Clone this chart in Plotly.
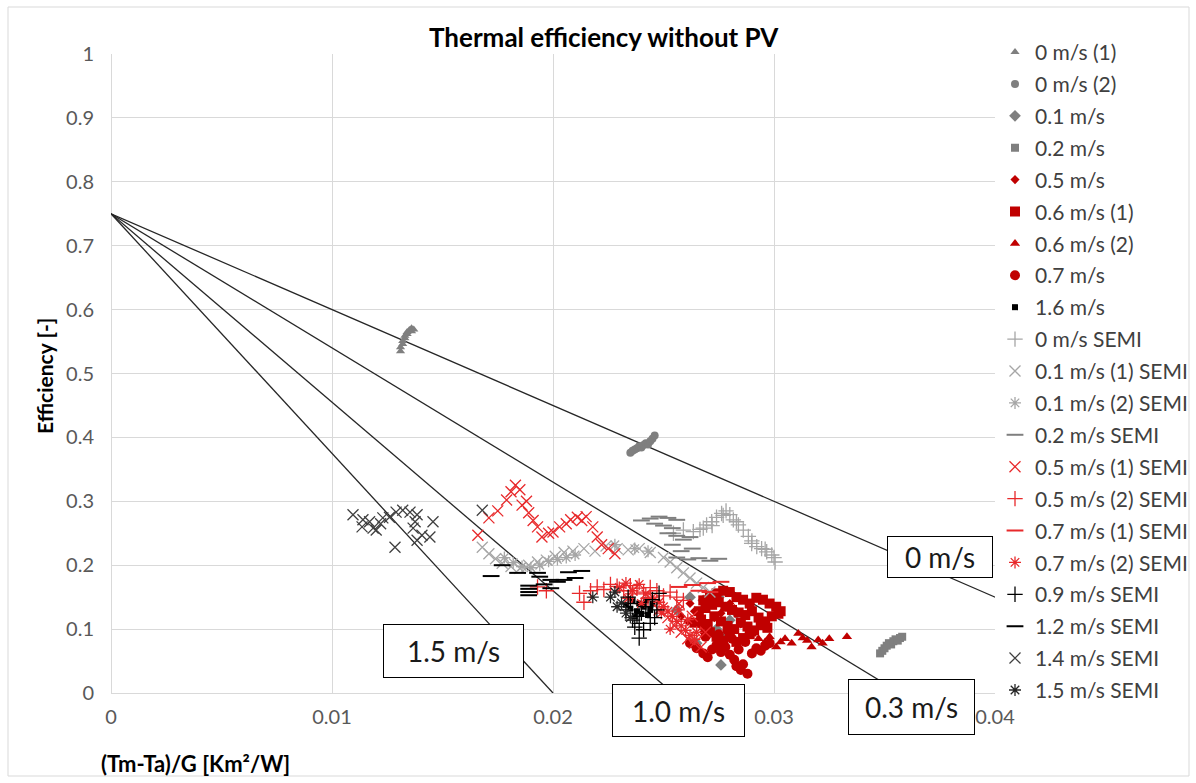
import plotly.graph_objects as go

# ---------------- data ----------------
x_0ms_1 = [0.0131, 0.0131, 0.0132, 0.0132, 0.0133, 0.0133, 0.0134, 0.0134, 0.0135, 0.0136, 0.0136, 0.0137]
y_0ms_1 = [0.535, 0.541, 0.546, 0.551, 0.555, 0.559, 0.562, 0.565, 0.568, 0.566, 0.571, 0.569]

x_0ms_2 = [0.0235, 0.0236, 0.0237, 0.0238, 0.0239, 0.0240, 0.0241, 0.0242, 0.0243, 0.0244, 0.0245, 0.0246]
y_0ms_2 = [0.376, 0.379, 0.381, 0.383, 0.386, 0.384, 0.388, 0.391, 0.389, 0.394, 0.398, 0.403]

x_01ms = [0.0256, 0.0262, 0.0265, 0.0268, 0.0271, 0.0274, 0.0276, 0.0280, 0.0283, 0.0267, 0.0275, 0.0278]
y_01ms = [0.130, 0.150, 0.078, 0.145, 0.141, 0.100, 0.044, 0.114, 0.125, 0.110, 0.150, 0.090]

x_02ms = [0.0348, 0.0349, 0.0350, 0.0351, 0.0352, 0.0353, 0.0354, 0.0355, 0.0356, 0.0357, 0.0358]
y_02ms = [0.062, 0.066, 0.070, 0.074, 0.078, 0.076, 0.081, 0.084, 0.082, 0.086, 0.088]

x_05ms = [0.0258, 0.0261, 0.0264, 0.0267, 0.0270, 0.0273, 0.0276, 0.0279, 0.0282, 0.0285, 0.0262, 0.0268, 0.0274, 0.0280]
y_05ms = [0.120, 0.112, 0.128, 0.105, 0.135, 0.118, 0.125, 0.098, 0.132, 0.108, 0.140, 0.095, 0.148, 0.140]

x_06ms_1 = [0.0268, 0.0271, 0.0274, 0.0277, 0.0280, 0.0283, 0.0286, 0.0289, 0.0292, 0.0295, 0.0298, 0.0301, 0.0303,
            0.0266, 0.0269, 0.0272, 0.0275, 0.0278, 0.0281, 0.0284, 0.0287, 0.0290, 0.0293, 0.0296, 0.0299, 0.0302,
            0.0264, 0.0267, 0.0270, 0.0273, 0.0276, 0.0279, 0.0282, 0.0285, 0.0288, 0.0291, 0.0294, 0.0297,
            0.0271, 0.0274, 0.0277, 0.0280, 0.0283, 0.0286, 0.0289]
y_06ms_1 = [0.145, 0.152, 0.156, 0.160, 0.158, 0.150, 0.146, 0.140, 0.149, 0.146, 0.140, 0.135, 0.128,
            0.128, 0.133, 0.138, 0.142, 0.135, 0.130, 0.126, 0.122, 0.128, 0.118, 0.112, 0.120, 0.124,
            0.110, 0.115, 0.108, 0.120, 0.112, 0.105, 0.100, 0.110, 0.104, 0.098, 0.106, 0.102,
            0.095, 0.088, 0.082, 0.090, 0.080, 0.086, 0.092]

x_06ms_2 = [0.0290, 0.0293, 0.0296, 0.0298, 0.0301, 0.0303, 0.0305, 0.0308, 0.0311, 0.0313, 0.0315, 0.0317, 0.0320, 0.0322, 0.0325, 0.0333]
y_06ms_2 = [0.092, 0.085, 0.080, 0.088, 0.072, 0.080, 0.085, 0.078, 0.093, 0.086, 0.082, 0.072, 0.083, 0.078, 0.085, 0.088]

x_07ms = [0.0262, 0.0265, 0.0268, 0.0270, 0.0272, 0.0274, 0.0276, 0.0278, 0.0280, 0.0282, 0.0284, 0.0285, 0.0286,
          0.0288, 0.0290, 0.0292, 0.0294, 0.0296, 0.0298, 0.0269, 0.0275, 0.0281, 0.0287, 0.0283, 0.0279]
y_07ms = [0.078, 0.070, 0.062, 0.056, 0.068, 0.075, 0.064, 0.072, 0.060, 0.052, 0.068, 0.036, 0.045,
          0.030, 0.062, 0.070, 0.066, 0.074, 0.078, 0.088, 0.092, 0.085, 0.080, 0.042, 0.098]

x_16ms = [0.0233, 0.0235, 0.0236, 0.0238, 0.0239, 0.0240, 0.0241, 0.0242, 0.0244, 0.0237, 0.0243, 0.0245]
y_16ms = [0.138, 0.132, 0.145, 0.128, 0.140, 0.124, 0.135, 0.145, 0.130, 0.120, 0.122, 0.140]

x_0ms_semi = [0.02545, 0.0259, 0.02635, 0.02665, 0.0268, 0.02695, 0.0272, 0.02718, 0.0274, 0.02763, 0.0277, 0.02783,
              0.0280, 0.02816, 0.0283, 0.02839, 0.02861, 0.02884, 0.0290, 0.02899, 0.02922, 0.02944, 0.0296,
              0.02967, 0.0299, 0.0300, 0.03005]
y_0ms_semi = [0.250, 0.255, 0.2525, 0.256, 0.258, 0.263, 0.262, 0.268, 0.275, 0.281, 0.278, 0.285,
              0.279, 0.271, 0.268, 0.263, 0.255, 0.245, 0.238, 0.234, 0.229, 0.226, 0.225,
              0.221, 0.216, 0.212, 0.205]

x_01ms_1_semi = [0.0168, 0.0171, 0.0174, 0.0177, 0.0181, 0.0185, 0.0189, 0.0193, 0.0197, 0.0201, 0.0205, 0.0209,
                 0.0214, 0.0219, 0.0224, 0.0229, 0.0234, 0.0239, 0.0244, 0.0250, 0.0253, 0.0256, 0.0259, 0.0262,
                 0.0265, 0.0268, 0.0271]
y_01ms_1_semi = [0.228, 0.218, 0.210, 0.203, 0.198, 0.195, 0.200, 0.205, 0.208, 0.214, 0.220, 0.222,
                 0.226, 0.222, 0.230, 0.226, 0.224, 0.226, 0.220, 0.212, 0.205, 0.196, 0.188, 0.180,
                 0.172, 0.165, 0.158]

x_01ms_2_semi = [0.0178, 0.0182, 0.0186, 0.0190, 0.0194, 0.0198, 0.0202, 0.0206, 0.0210, 0.0237, 0.0243, 0.0228]
y_01ms_2_semi = [0.212, 0.204, 0.198, 0.196, 0.200, 0.206, 0.209, 0.212, 0.216, 0.226, 0.222, 0.232]

x_02ms_semi = [0.0240, 0.0244, 0.0248, 0.0252, 0.0256, 0.0246, 0.0250, 0.0254, 0.0252, 0.0256, 0.0259, 0.0262,
               0.0256, 0.0261, 0.0266, 0.0271, 0.0275, 0.0254, 0.0258, 0.0263]
y_02ms_semi = [0.270, 0.273, 0.276, 0.274, 0.271, 0.265, 0.262, 0.258, 0.250, 0.246, 0.240, 0.244,
               0.212, 0.209, 0.211, 0.207, 0.210, 0.232, 0.222, 0.226]

x_05ms_1_semi = [0.0166, 0.0171, 0.0175, 0.0179, 0.0181, 0.0183, 0.0185, 0.0186, 0.0188, 0.0189, 0.0191, 0.0193,
                 0.0195, 0.0198, 0.0200, 0.0203, 0.0206, 0.0208, 0.0211, 0.0213, 0.0215, 0.0218, 0.0220, 0.0222,
                 0.0225, 0.0228,
                 0.0248, 0.0252, 0.0255, 0.0258, 0.0261, 0.0264, 0.0267, 0.0257, 0.0263, 0.0269]
y_05ms_1_semi = [0.247, 0.274, 0.285, 0.302, 0.315, 0.325, 0.318, 0.294, 0.300, 0.282, 0.270, 0.260,
                 0.244, 0.250, 0.252, 0.260, 0.265, 0.271, 0.275, 0.270, 0.276, 0.260, 0.244, 0.232,
                 0.226, 0.218,
                 0.130, 0.118, 0.105, 0.095, 0.085, 0.078, 0.072, 0.140, 0.120, 0.095]

x_05ms_2_semi = [0.0193, 0.0197, 0.0212, 0.0214, 0.0217, 0.0220, 0.0223, 0.0226, 0.0229, 0.0232, 0.0235, 0.0238,
                 0.0241, 0.0244, 0.0247, 0.0250, 0.0253, 0.0256, 0.0259, 0.0236, 0.0243]
y_05ms_2_semi = [0.166, 0.160, 0.156, 0.142, 0.160, 0.166, 0.162, 0.170, 0.167, 0.160, 0.168, 0.164,
                 0.158, 0.165, 0.160, 0.152, 0.158, 0.150, 0.145, 0.155, 0.148]

x_07ms_1_semi = [0.0257, 0.0263, 0.0270, 0.0276, 0.0271, 0.0266]
y_07ms_1_semi = [0.166, 0.169, 0.172, 0.174, 0.158, 0.160]

x_07ms_2_semi = [0.0230, 0.0233, 0.0236, 0.0239, 0.0242, 0.0245, 0.0248, 0.0250, 0.0252, 0.0254, 0.0256, 0.0258,
                 0.0260, 0.0262, 0.0264, 0.0249, 0.0253, 0.0257, 0.0261, 0.0265, 0.0234, 0.0240]
y_07ms_2_semi = [0.165, 0.172, 0.160, 0.170, 0.155, 0.150, 0.142, 0.135, 0.128, 0.120, 0.112, 0.105,
                 0.098, 0.090, 0.084, 0.125, 0.100, 0.130, 0.115, 0.095, 0.148, 0.140]

x_09ms_semi = [0.0233, 0.0235, 0.0236, 0.0238, 0.0239, 0.0240, 0.0241, 0.0239, 0.0242, 0.0244, 0.0245, 0.0247,
               0.0248, 0.0234, 0.0246, 0.0237]
y_09ms_semi = [0.130, 0.140, 0.114, 0.120, 0.109, 0.125, 0.099, 0.086, 0.135, 0.109, 0.146, 0.130,
               0.156, 0.150, 0.118, 0.103]

x_12ms_semi = [0.0172, 0.0177, 0.0184, 0.0189, 0.0189, 0.0189, 0.0189, 0.0193, 0.0194, 0.0199, 0.0202, 0.0205,
               0.0199, 0.0207, 0.0213, 0.0196, 0.0210]
y_12ms_semi = [0.183, 0.200, 0.188, 0.153, 0.158, 0.163, 0.168, 0.188, 0.182, 0.177, 0.174, 0.177,
               0.164, 0.189, 0.191, 0.170, 0.180]

x_14ms_semi = [0.01095, 0.0114, 0.01136, 0.0117, 0.01186, 0.0120, 0.0122, 0.0123, 0.0126, 0.0129, 0.0132,
               0.01353, 0.01376, 0.01385, 0.01367, 0.01385, 0.01407, 0.01443, 0.01457, 0.01285, 0.0168]
y_14ms_semi = [0.279, 0.271, 0.260, 0.268, 0.258, 0.255, 0.265, 0.274, 0.275, 0.283, 0.286,
               0.283, 0.268, 0.279, 0.258, 0.239, 0.247, 0.244, 0.268, 0.228, 0.286]

x_15ms_semi = [0.0218, 0.0226, 0.0229, 0.0231, 0.0233, 0.0235, 0.0228]
y_15ms_semi = [0.150, 0.150, 0.135, 0.141, 0.125, 0.118, 0.158]

# efficiency lines: eta = eta0 - a1 * x
line_labels = ["0 m/s", "0.3 m/s", "1.0 m/s", "1.5 m/s"]
line_eta0 = [0.75, 0.75, 0.75, 0.75]
line_a1 = [15.0, 21.0, 29.5, 37.5]

x_ticks = [0, 0.01, 0.02, 0.03, 0.04]
x_ticklabels = ["0", "0.01", "0.02", "0.03", "0.04"]
y_ticks = [0, 0.1, 0.2, 0.3, 0.4, 0.5, 0.6, 0.7, 0.8, 0.9, 1.0]
y_ticklabels = ["0", "0.1", "0.2", "0.3", "0.4", "0.5", "0.6", "0.7", "0.8", "0.9", "1"]

# ---------------- styles ----------------
GRAY = "#7f7f7f"
LGRAY = "#a6a6a6"
RED = "#c00000"
SRED = "#e8292b"
BLACK = "#000000"

series = [
    ("0 m/s (1)", x_0ms_1, y_0ms_1, "triangle-up", GRAY, 8, 0),
    ("0 m/s (2)", x_0ms_2, y_0ms_2, "circle", GRAY, 8, 0),
    ("0.1 m/s", x_01ms, y_01ms, "diamond", GRAY, 9, 0),
    ("0.2 m/s", x_02ms, y_02ms, "square", GRAY, 8, 0),
    ("0.5 m/s", x_05ms, y_05ms, "diamond", RED, 7, 0),
    ("0.6 m/s (1)", x_06ms_1, y_06ms_1, "square", RED, 10, 0),
    ("0.6 m/s (2)", x_06ms_2, y_06ms_2, "triangle-up", RED, 9, 0),
    ("0.7 m/s", x_07ms, y_07ms, "circle", RED, 10, 0),
    ("1.6 m/s", x_16ms, y_16ms, "square", BLACK, 6, 0),
    ("0 m/s SEMI", x_0ms_semi, y_0ms_semi, "cross-thin-open", LGRAY, 11, 1.3),
    ("0.1 m/s (1) SEMI", x_01ms_1_semi, y_01ms_1_semi, "x-thin-open", LGRAY, 11, 1.3),
    ("0.1 m/s (2) SEMI", x_01ms_2_semi, y_01ms_2_semi, "asterisk-open", LGRAY, 10, 1.3),
    ("0.2 m/s SEMI", x_02ms_semi, y_02ms_semi, "line-ew-open", GRAY, 12, 2),
    ("0.5 m/s (1) SEMI", x_05ms_1_semi, y_05ms_1_semi, "x-thin-open", SRED, 11, 1.3),
    ("0.5 m/s (2) SEMI", x_05ms_2_semi, y_05ms_2_semi, "cross-thin-open", SRED, 11, 1.3),
    ("0.7 m/s (1) SEMI", x_07ms_1_semi, y_07ms_1_semi, "line-ew-open", SRED, 12, 2),
    ("0.7 m/s (2) SEMI", x_07ms_2_semi, y_07ms_2_semi, "asterisk-open", SRED, 10, 1.3),
    ("0.9 m/s SEMI", x_09ms_semi, y_09ms_semi, "cross-thin-open", BLACK, 11, 1.3),
    ("1.2 m/s SEMI", x_12ms_semi, y_12ms_semi, "line-ew-open", BLACK, 12, 2),
    ("1.4 m/s SEMI", x_14ms_semi, y_14ms_semi, "x-thin-open", "#404040", 11, 1.3),
    ("1.5 m/s SEMI", x_15ms_semi, y_15ms_semi, "asterisk-open", "#262626", 10, 1.3),
]

FONT = "Lato, 'Open Sans', sans-serif"

fig = go.Figure()

# lines
for lab, e0, a1 in zip(line_labels, line_eta0, line_a1):
    fig.add_trace(go.Scatter(
        x=[0, e0 / a1], y=[e0, 0], mode="lines",
        line=dict(color="#262626", width=1.3), showlegend=False, hoverinfo="skip"))

for name, xs, ys, sym, col, size, lw in series:
    mk = dict(symbol=sym, color=col, size=size)
    if lw:
        mk["line"] = dict(color=col, width=lw)
    fig.add_trace(go.Scatter(
        x=xs, y=ys, mode="markers", name=name, legendgroup=name,
        marker=mk, cliponaxis=False))

# plot area px: x 111..995, y 54..693
def px2paper_x(px):
    return (px - 111) / 884.0

def px2paper_y(py):
    return (693 - py) / 639.0

annotations = []
# line label boxes (left, top, right, bottom in px)
boxes = {
    "0 m/s": (887, 536, 993, 578),
    "0.3 m/s": (848, 679, 975, 735),
    "1.0 m/s": (612, 684, 745, 737),
    "1.5 m/s": (383, 624, 524, 678),
}
for lab in line_labels:
    l, t, r, b = boxes[lab]
    annotations.append(dict(
        xref="paper", yref="paper",
        x=px2paper_x((l + r) / 2), y=px2paper_y((t + b) / 2),
        xanchor="center", yanchor="middle",
        text=lab, showarrow=False,
        width=r - l - 2, height=b - t - 2,
        bgcolor="white", bordercolor="#000000", borderwidth=1, borderpad=0,
        font=dict(family=FONT, size=28, color="#1a1a1a")))

annotations.append(dict(
    xref="paper", yref="paper", x=px2paper_x(604), y=px2paper_y(37),
    xanchor="center", yanchor="middle", showarrow=False,
    text="<b>Thermal efficiency without PV</b>",
    font=dict(family=FONT, size=26, color="#000000")))
annotations.append(dict(
    xref="paper", yref="paper", x=px2paper_x(45), y=px2paper_y(376),
    xanchor="center", yanchor="middle", showarrow=False, textangle=-90,
    text="<b>Efficiency [-]</b>",
    font=dict(family=FONT, size=21, color="#000000")))
annotations.append(dict(
    xref="paper", yref="paper", x=px2paper_x(195), y=px2paper_y(763),
    xanchor="center", yanchor="middle", showarrow=False,
    text="<b>(Tm-Ta)/G [Km²/W]</b>",
    font=dict(family=FONT, size=22, color="#000000")))

fig.update_layout(
    width=1196, height=783, autosize=False,
    margin=dict(l=111, r=201, t=54, b=90, autoexpand=False),
    plot_bgcolor="white", paper_bgcolor="white",
    font=dict(family=FONT, size=20, color="#595959"),
    annotations=annotations,
    showlegend=True,
    legend=dict(x=1.0, xanchor="left", y=1.0347, yanchor="top",
                font=dict(family=FONT, size=21, color="#404040"),
                tracegroupgap=1.6, bgcolor="rgba(0,0,0,0)", maxheight=780),
    shapes=[dict(type="rect", xref="paper", yref="paper",
                 x0=px2paper_x(8), x1=px2paper_x(1189),
                 y0=px2paper_y(776), y1=px2paper_y(7),
                 line=dict(color="#d9d9d9", width=1), layer="below")],
)
fig.update_xaxes(range=[0, 0.04], tickvals=x_ticks, ticktext=x_ticklabels,
                 showgrid=True, gridcolor="#d9d9d9", gridwidth=1,
                 zeroline=True, zerolinecolor="#d9d9d9", zerolinewidth=1,
                 showline=False, ticks="", ticklabelstandoff=10)
fig.update_yaxes(range=[0, 1], tickvals=y_ticks, ticktext=y_ticklabels,
                 showgrid=True, gridcolor="#d9d9d9", gridwidth=1,
                 zeroline=True, zerolinecolor="#d9d9d9", zerolinewidth=1,
                 showline=False, ticks="", ticklabelstandoff=16)

fig.write_html("out.html", config={"displayModeBar": False},
               post_script="document.body.style.margin='0';")
